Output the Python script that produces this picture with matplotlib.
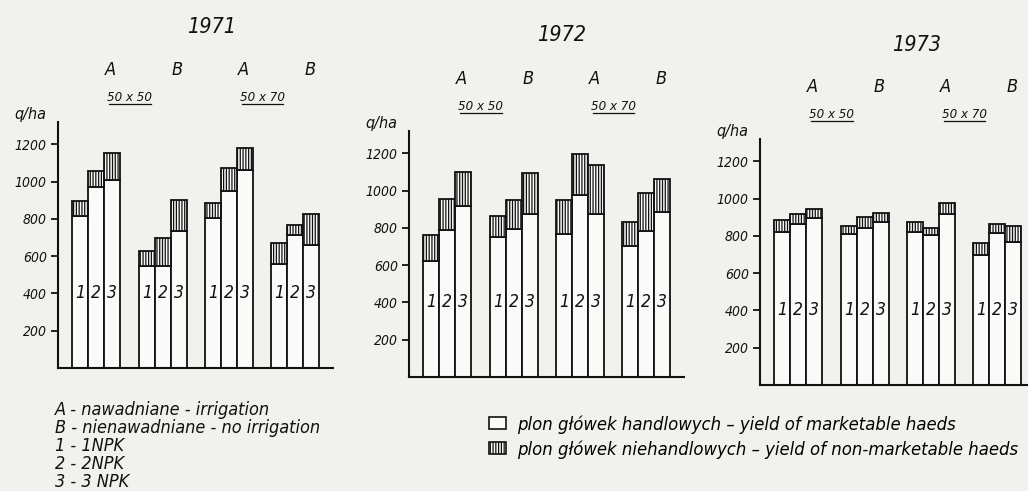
import matplotlib
matplotlib.use('Agg')
import matplotlib.pyplot as plt
from matplotlib.patches import Patch
import numpy as np

plt.rcParams['font.family'] = ['DejaVu Sans']
plt.rcParams['font.stretch'] = 'condensed'
plt.rcParams['font.style'] = 'italic'
plt.rcParams['hatch.linewidth'] = 0.9

# ---- data (q/ha), order: 50x50 A(1,2,3), 50x50 B(1,2,3), 50x70 A(1,2,3), 50x70 B(1,2,3)
years = ['1971', '1972', '1973']
groups = ['A', 'B', 'A', 'B']
spacings = ['50x50', '50x70']
npk = ['1', '2', '3']

market_1971 = [815, 970, 1010, 545, 545, 735, 805, 950, 1060, 560, 715, 660]
nonmkt_1971 = [80, 85, 145, 85, 150, 165, 80, 125, 120, 110, 55, 165]
market_1972 = [625, 790, 920, 750, 795, 875, 770, 975, 875, 705, 785, 885]
nonmkt_1972 = [135, 165, 180, 115, 155, 220, 180, 220, 265, 125, 205, 180]
market_1973 = [820, 865, 895, 810, 840, 875, 820, 805, 915, 700, 815, 770]
nonmkt_1973 = [65, 55, 50, 45, 60, 50, 55, 40, 60, 60, 50, 85]

markets = [market_1971, market_1972, market_1973]
nonmkts = [nonmkt_1971, nonmkt_1972, nonmkt_1973]

W, H = 1028, 491
bg = '#f1f1ee'
fig = plt.figure(figsize=(W / 100, H / 100), dpi=100, facecolor=bg)

# panel placement in pixels: (y-axis x, baseline y, year title x, y)
panels = [(58, 368, 212, 27), (409, 377, 562, 35), (760, 385, 917, 45)]
ax_w = 275
ax_h = 246

for k, (x0, y0, tx, ty) in enumerate(panels):
    ax = fig.add_axes([x0 / W, (H - y0) / H, ax_w / W, ax_h / H])
    ax.set_facecolor('none')
    ax.set_xlim(0, 17.2)
    ax.set_ylim(0, 1320)

    xs = []
    for g in range(4):
        for b in range(3):
            xs.append(0.9 + 4.15 * g + b + 0.5)
    xs = np.array(xs)

    ax.bar(xs, markets[k], width=1.0, color='#fafaf8', edgecolor='#111111', linewidth=1.3)
    ax.bar(xs, nonmkts[k], width=1.0, bottom=markets[k], color='#fafaf8',
           edgecolor='#111111', linewidth=1.3, hatch='||||||')

    for i, x in enumerate(xs):
        ax.text(x, 400, npk[i % 3], ha='center', va='center', fontsize=12.5, color='#111111')

    for s in ['top', 'right']:
        ax.spines[s].set_visible(False)
    for s in ['left', 'bottom']:
        ax.spines[s].set_linewidth(1.5)
        ax.spines[s].set_color('#111111')
    ax.set_xticks([])
    ax.set_yticks([200, 400, 600, 800, 1000, 1200])
    ax.tick_params(axis='y', direction='out', length=5, width=1.3, labelsize=10,
                   pad=3, colors='#111111')

    # group labels
    for g in range(4):
        gx = 0.9 + 4.15 * g + 1.5 + 0.9
        ax.text(gx, 1.21, groups[g], transform=ax.get_xaxis_transform(),
                ha='center', va='center', fontsize=13, color='#111111')
    for j in range(2):
        sx = 0.9 + 8.3 * j + 3.6
        ax.text(sx, 1.1, spacings[j].replace('x', ' x '), transform=ax.get_xaxis_transform(),
                ha='center', va='center', fontsize=9.5, color='#111111')
        ax.plot([sx - 1.3, sx + 1.3], [1.075, 1.075], transform=ax.get_xaxis_transform(),
                color='#111111', lw=0.9, clip_on=False)
    ax.text(-0.1, 1.03, 'q/ha', transform=ax.transAxes, ha='center', va='center',
            fontsize=11.5, color='#111111')

    fig.text(tx / W, 1 - ty / H, years[k], ha='center', va='center', fontsize=15.5,
             color='#111111')

# explanation of symbols
notes = ['A - nawadniane - irrigation', 'B - nienawadniane - no irrigation',
         '1 - 1NPK', '2 - 2NPK', '3 - 3 NPK']
for i, t in enumerate(notes):
    fig.text(55 / W, 1 - (410 + 18 * i) / H, t, ha='left', va='center', fontsize=13,
             color='#111111')

handles = [Patch(facecolor='#fafaf8', edgecolor='#111111', linewidth=1.2),
           Patch(facecolor='#fafaf8', edgecolor='#111111', linewidth=1.2, hatch='||||||')]
labels = ['plon główek handlowych – yield of marketable haeds',
          'plon główek niehandlowych – yield of non-marketable haeds']
fig.legend(handles, labels, loc='upper left', bbox_to_anchor=(480 / W, 1 - 406 / H),
           frameon=False, fontsize=13.2, handlelength=0.9, handleheight=0.6,
           handletextpad=0.6, labelspacing=0.35, borderpad=0)

fig.savefig('out.png', dpi=100, facecolor=bg)
